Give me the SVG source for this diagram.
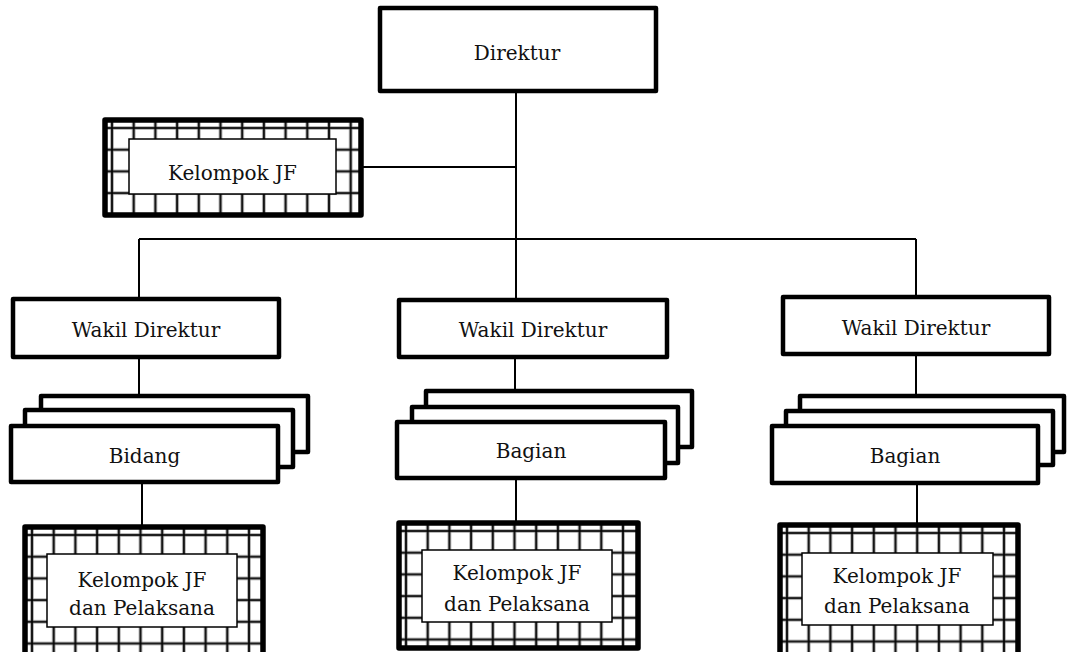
<svg xmlns="http://www.w3.org/2000/svg" width="1071" height="652" viewBox="0 0 1071 652">
<style>
  .box{fill:#fff;stroke:#000;stroke-width:4.5;stroke-linejoin:round}
  .inner{fill:#fff;stroke:#000;stroke-width:1.5}
  .outer{fill:url(#grid);stroke:#000;stroke-width:5.5;stroke-linejoin:round}
  .lbl{font-family:"DejaVu Serif","Liberation Serif",serif;font-size:20px;fill:#111;text-anchor:middle}
  .conn line{stroke:#000;stroke-width:2}
</style>
<defs>
  <pattern id="grid" patternUnits="userSpaceOnUse" x="7" y="8" width="21.7" height="21.7">
    <rect width="21.7" height="21.7" fill="#fff"/>
    <path d="M0,0V21.7M0,0H21.7M21.7,0V21.7M0,21.7H21.7" stroke="#777" stroke-width="3" fill="none"/>
    <path d="M0,0V21.7M0,0H21.7M21.7,0V21.7M0,21.7H21.7" stroke="#000" stroke-width="1.6" fill="none"/>
  </pattern>
</defs>
<g id="connectors" class="conn">
  <line x1="516" y1="91" x2="516" y2="300"/>
  <line x1="361" y1="167" x2="516" y2="167"/>
  <line x1="139" y1="239" x2="916" y2="239"/>
  <line x1="139" y1="239" x2="139" y2="299"/>
  <line x1="916" y1="239" x2="916" y2="297"/>
  <line x1="139" y1="357" x2="139" y2="396"/>
  <line x1="515" y1="357" x2="515" y2="391"/>
  <line x1="916" y1="355" x2="916" y2="396"/>
  <line x1="142" y1="482" x2="142" y2="527"/>
  <line x1="516" y1="478" x2="516" y2="523"/>
  <line x1="917" y1="483" x2="917" y2="525"/>
</g>
<g id="direktur">
  <rect class="box" x="380" y="8" width="276" height="83"/>
  <text class="lbl" x="517" y="60">Direktur</text>
</g>
<g id="jf-top" transform="translate(105,120)">
  <rect class="outer" x="0" y="0" width="256" height="95"/>
  <rect class="inner" x="24" y="19" width="207" height="55"/>
  <text class="lbl" x="127.5" y="60">Kelompok JF</text>
</g>
<g id="wakil-1">
  <rect class="box" x="13" y="299" width="266" height="58"/>
  <text class="lbl" x="146" y="337">Wakil Direktur</text>
</g>
<g id="wakil-2">
  <rect class="box" x="399" y="300" width="268" height="57"/>
  <text class="lbl" x="533" y="337">Wakil Direktur</text>
</g>
<g id="wakil-3">
  <rect class="box" x="783" y="297" width="266" height="57"/>
  <text class="lbl" x="916" y="335">Wakil Direktur</text>
</g>
<g id="bidang">
  <rect class="box" x="41" y="396" width="267" height="56"/>
  <rect class="box" x="25" y="410" width="268" height="57"/>
  <rect class="box" x="11" y="426" width="267" height="56"/>
  <text class="lbl" x="144.5" y="463">Bidang</text>
</g>
<g id="bagian-2">
  <rect class="box" x="426" y="391" width="266" height="56"/>
  <rect class="box" x="412" y="407" width="266" height="56"/>
  <rect class="box" x="397" y="422" width="268" height="56"/>
  <text class="lbl" x="531" y="458">Bagian</text>
</g>
<g id="bagian-3">
  <rect class="box" x="800" y="396" width="264" height="56"/>
  <rect class="box" x="786" y="411" width="267" height="54"/>
  <rect class="box" x="772" y="426" width="266" height="57"/>
  <text class="lbl" x="905" y="463">Bagian</text>
</g>
<g id="jf-1" transform="translate(25,527)">
  <rect class="outer" x="0" y="0" width="238" height="135"/>
  <rect class="inner" x="22" y="27" width="190" height="73"/>
  <text class="lbl" x="117" y="60">Kelompok JF</text>
  <text class="lbl" x="117" y="88">dan Pelaksana</text>
</g>
<g id="jf-2" transform="translate(399,523)">
  <rect class="outer" x="0" y="0" width="239" height="125"/>
  <rect class="inner" x="23" y="27" width="190" height="72"/>
  <text class="lbl" x="118" y="57">Kelompok JF</text>
  <text class="lbl" x="118" y="88">dan Pelaksana</text>
</g>
<g id="jf-3" transform="translate(780,525)">
  <rect class="outer" x="0" y="0" width="238" height="137"/>
  <rect class="inner" x="22" y="28" width="191" height="72"/>
  <text class="lbl" x="117" y="58">Kelompok JF</text>
  <text class="lbl" x="117" y="88">dan Pelaksana</text>
</g>
</svg>
